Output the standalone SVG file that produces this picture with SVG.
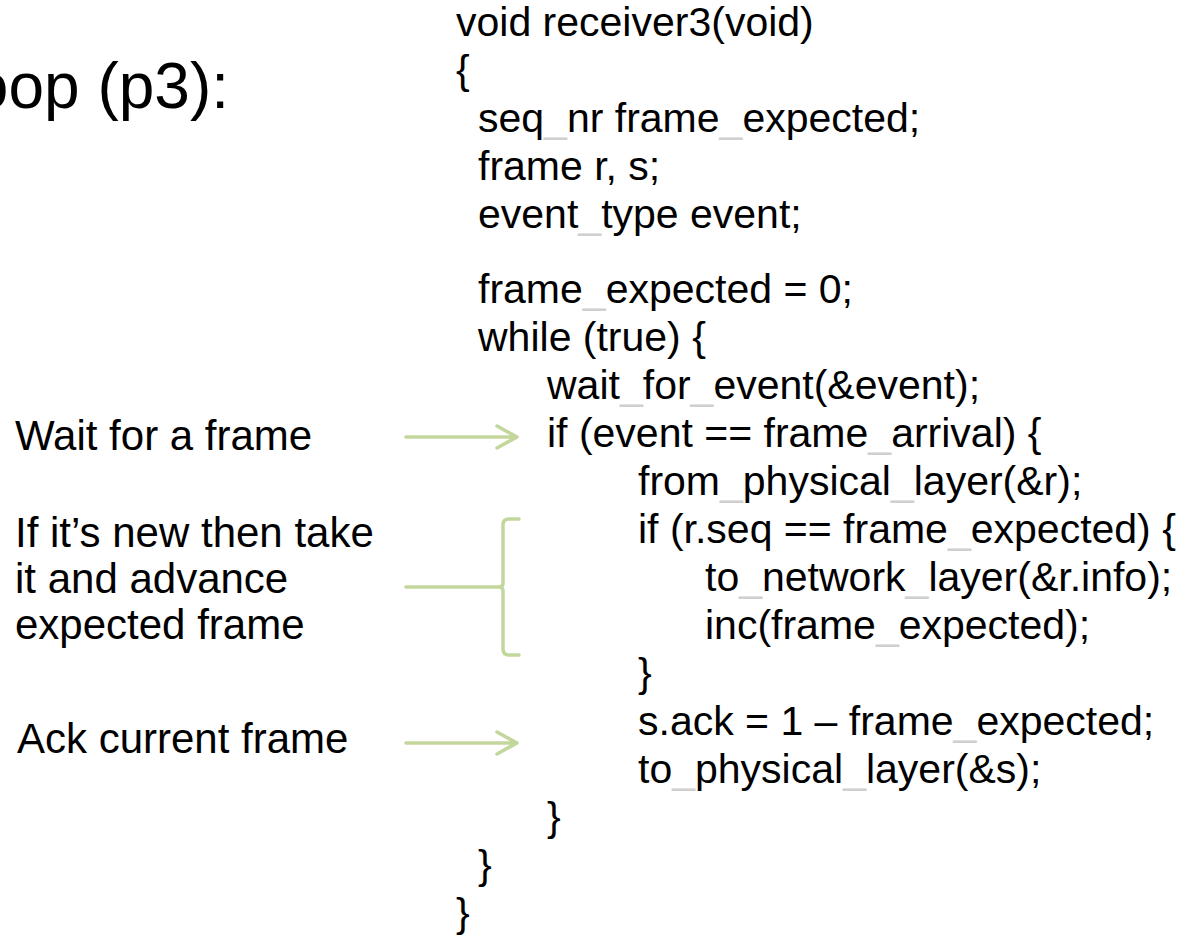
<svg xmlns="http://www.w3.org/2000/svg" width="1201" height="936" viewBox="0 0 1201 936">
<style>
text{font-family:"Liberation Sans",Arial,sans-serif;fill:#000}
.code{font-size:41px}
.lbl{font-size:42px}
.u{fill:#cfcfcf}
.conn{fill:none;stroke:#c3d69b;stroke-width:3.5;stroke-linecap:round;stroke-linejoin:round}
</style>
<rect width="1201" height="936" fill="#fff"/>
<g id="title"><text x="229" y="108" font-size="64" text-anchor="end">oop (p3):</text></g>
<g id="code" class="code">
<text class="code" x="456" y="36">void receiver3(void)</text>
<text class="code" x="456" y="84">{</text>
<text class="code" x="478" y="132">seq<tspan class="u">_</tspan>nr frame<tspan class="u">_</tspan>expected;</text>
<text class="code" x="478" y="180">frame r, s;</text>
<text class="code" x="478" y="228">event<tspan class="u">_</tspan>type event;</text>
<text class="code" x="478" y="303">frame<tspan class="u">_</tspan>expected = 0;</text>
<text class="code" x="478" y="351">while (true) {</text>
<text class="code" x="547" y="399">wait<tspan class="u">_</tspan>for<tspan class="u">_</tspan>event(&amp;event);</text>
<text class="code" x="547" y="447">if (event == frame<tspan class="u">_</tspan>arrival) {</text>
<text class="code" x="638" y="495">from<tspan class="u">_</tspan>physical<tspan class="u">_</tspan>layer(&amp;r);</text>
<text class="code" x="638" y="543">if (r.seq == frame<tspan class="u">_</tspan>expected) {</text>
<text class="code" x="705" y="591">to<tspan class="u">_</tspan>network<tspan class="u">_</tspan>layer(&amp;r.info);</text>
<text class="code" x="705" y="639">inc(frame<tspan class="u">_</tspan>expected);</text>
<text class="code" x="638" y="687">}</text>
<text class="code" x="638" y="735">s.ack = 1 – frame<tspan class="u">_</tspan>expected;</text>
<text class="code" x="638" y="783">to<tspan class="u">_</tspan>physical<tspan class="u">_</tspan>layer(&amp;s);</text>
<text class="code" x="547" y="831">}</text>
<text class="code" x="478" y="879">}</text>
<text class="code" x="456" y="927">}</text>
</g>
<g id="label-wait"><text class="lbl" x="15" y="450">Wait for a frame</text></g>
<g id="label-new">
<text class="lbl" x="15" y="547">If it’s new then take</text>
<text class="lbl" x="15" y="593">it and advance</text>
<text class="lbl" x="15" y="639">expected frame</text>
</g>
<g id="label-ack"><text class="lbl" x="17" y="753">Ack current frame</text></g>
<g id="connectors">
<path class="conn" d="M406,437 H516 M497,426 L517,437 L497,448"/>
<path class="conn" d="M406,587 H499 Q503,587 503,583 V525 Q503,519 509,519 H519 M503,591 V649 Q503,655 509,655 H519 M499,587 Q503,587 503,591"/>
<path class="conn" d="M406,743 H516 M497,732 L517,743 L497,754"/>
</g>
</svg>
